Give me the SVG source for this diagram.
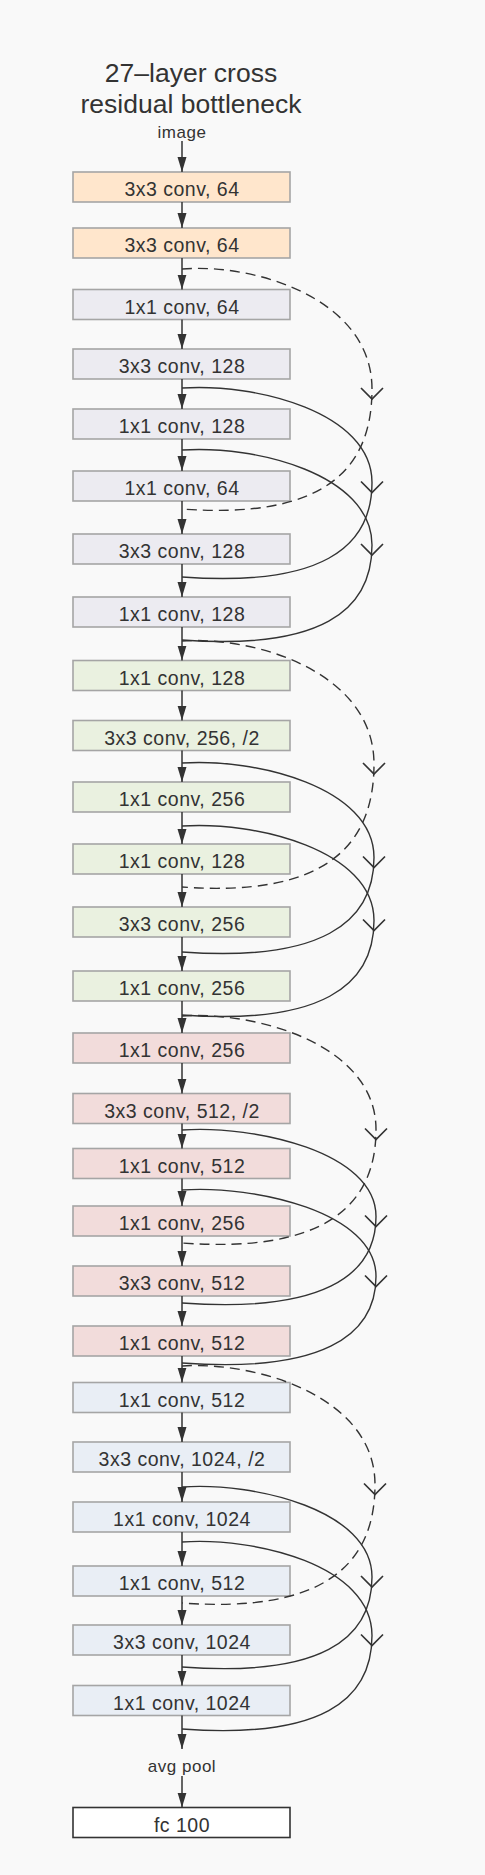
<svg xmlns="http://www.w3.org/2000/svg" width="485" height="1875" viewBox="0 0 485 1875">
<style>
.bg{fill:#f9f9f9}
.box{stroke:#a5a5a5;stroke-width:1.6}
.c0{fill:#ffe6cc}
.c1{fill:#ecebf1}
.c2{fill:#eaf1e0}
.c3{fill:#f2dcdb}
.c4{fill:#e9eef5}
.fc{fill:#ffffff;stroke:#333333;stroke-width:1.6}
.lbl{font-family:"Liberation Sans",Arial,sans-serif;font-size:19.5px;letter-spacing:0.5px;fill:#333333;text-anchor:middle}
.title{font-family:"Liberation Sans",Arial,sans-serif;font-size:26.5px;fill:#333333;text-anchor:middle}
.small{font-family:"Liberation Sans",Arial,sans-serif;font-size:17px;letter-spacing:0.5px;fill:#333333;text-anchor:middle}
.arr{fill:none;stroke:#333333;stroke-width:1.5;marker-end:url(#ah)}
.skip{fill:none;stroke:#333333;stroke-width:1.4;marker-mid:url(#v)}
.dash{stroke-dasharray:10 6}
</style>
<defs>
<marker id="ah" markerUnits="userSpaceOnUse" viewBox="0 0 15 10" markerWidth="15" markerHeight="10" refX="15" refY="5" orient="auto">
<path d="M0,0.5 L15,5 L0,9.5 Z" fill="#333333"/>
</marker>
<marker id="v" markerUnits="userSpaceOnUse" viewBox="-14 -13 16 26" markerWidth="16" markerHeight="26" refX="-10" refY="0" orient="auto" overflow="visible">
<path d="M-11,-11 L0,0 L-11,11" fill="none" stroke="#333333" stroke-width="1.7" stroke-dasharray="none"/>
</marker>
</defs>
<rect class="bg" x="0" y="0" width="485" height="1875"/>
<g id="title">
<text class="title" x="191" y="82">27–layer cross</text>
<text class="title" x="191" y="113">residual bottleneck</text>
</g>
<g id="image"><text class="small" x="182" y="138">image</text></g>
<g id="n1"><rect class="box c0" x="73" y="172" width="217" height="30"/><text class="lbl" x="182" y="196">3x3 conv, 64</text></g>
<g id="n2"><rect class="box c0" x="73" y="228" width="217" height="30"/><text class="lbl" x="182" y="252">3x3 conv, 64</text></g>
<g id="n3"><rect class="box c1" x="73" y="289.5" width="217" height="30"/><text class="lbl" x="182" y="313.5">1x1 conv, 64</text></g>
<g id="n4"><rect class="box c1" x="73" y="349" width="217" height="30"/><text class="lbl" x="182" y="373">3x3 conv, 128</text></g>
<g id="n5"><rect class="box c1" x="73" y="409" width="217" height="30"/><text class="lbl" x="182" y="433">1x1 conv, 128</text></g>
<g id="n6"><rect class="box c1" x="73" y="471" width="217" height="30"/><text class="lbl" x="182" y="495">1x1 conv, 64</text></g>
<g id="n7"><rect class="box c1" x="73" y="534" width="217" height="30"/><text class="lbl" x="182" y="558">3x3 conv, 128</text></g>
<g id="n8"><rect class="box c1" x="73" y="597" width="217" height="30"/><text class="lbl" x="182" y="621">1x1 conv, 128</text></g>
<g id="n9"><rect class="box c2" x="73" y="660.5" width="217" height="30"/><text class="lbl" x="182" y="684.5">1x1 conv, 128</text></g>
<g id="n10"><rect class="box c2" x="73" y="720.5" width="217" height="30"/><text class="lbl" x="182" y="744.5">3x3 conv, 256, /2</text></g>
<g id="n11"><rect class="box c2" x="73" y="782" width="217" height="30"/><text class="lbl" x="182" y="806">1x1 conv, 256</text></g>
<g id="n12"><rect class="box c2" x="73" y="844" width="217" height="30"/><text class="lbl" x="182" y="868">1x1 conv, 128</text></g>
<g id="n13"><rect class="box c2" x="73" y="907" width="217" height="30"/><text class="lbl" x="182" y="931">3x3 conv, 256</text></g>
<g id="n14"><rect class="box c2" x="73" y="971" width="217" height="30"/><text class="lbl" x="182" y="995">1x1 conv, 256</text></g>
<g id="n15"><rect class="box c3" x="73" y="1033" width="217" height="30"/><text class="lbl" x="182" y="1057">1x1 conv, 256</text></g>
<g id="n16"><rect class="box c3" x="73" y="1093.5" width="217" height="30"/><text class="lbl" x="182" y="1117.5">3x3 conv, 512, /2</text></g>
<g id="n17"><rect class="box c3" x="73" y="1148.5" width="217" height="30"/><text class="lbl" x="182" y="1172.5">1x1 conv, 512</text></g>
<g id="n18"><rect class="box c3" x="73" y="1206" width="217" height="30"/><text class="lbl" x="182" y="1230">1x1 conv, 256</text></g>
<g id="n19"><rect class="box c3" x="73" y="1266" width="217" height="30"/><text class="lbl" x="182" y="1290">3x3 conv, 512</text></g>
<g id="n20"><rect class="box c3" x="73" y="1326" width="217" height="30"/><text class="lbl" x="182" y="1350">1x1 conv, 512</text></g>
<g id="n21"><rect class="box c4" x="73" y="1382.5" width="217" height="30"/><text class="lbl" x="182" y="1406.5">1x1 conv, 512</text></g>
<g id="n22"><rect class="box c4" x="73" y="1442" width="217" height="30"/><text class="lbl" x="182" y="1466">3x3 conv, 1024, /2</text></g>
<g id="n23"><rect class="box c4" x="73" y="1502" width="217" height="30"/><text class="lbl" x="182" y="1526">1x1 conv, 1024</text></g>
<g id="n24"><rect class="box c4" x="73" y="1566" width="217" height="30"/><text class="lbl" x="182" y="1590">1x1 conv, 512</text></g>
<g id="n25"><rect class="box c4" x="73" y="1625" width="217" height="30"/><text class="lbl" x="182" y="1649">3x3 conv, 1024</text></g>
<g id="n26"><rect class="box c4" x="73" y="1685.5" width="217" height="30"/><text class="lbl" x="182" y="1709.5">1x1 conv, 1024</text></g>
<g id="avgpool"><text class="small" x="182" y="1771.5">avg pool</text></g>
<g id="fc"><rect class="fc" x="73" y="1807.5" width="217" height="30"/><text class="lbl" x="182" y="1831.5">fc 100</text></g>
<g id="connectors">
<path class="arr" d="M182,141 V172"/>
<path class="arr" d="M182,202 V228"/>
<path class="arr" d="M182,258 V289.5"/>
<path class="arr" d="M182,319.5 V349"/>
<path class="arr" d="M182,379 V409"/>
<path class="arr" d="M182,439 V471"/>
<path class="arr" d="M182,501 V534"/>
<path class="arr" d="M182,564 V597"/>
<path class="arr" d="M182,627 V660.5"/>
<path class="arr" d="M182,690.5 V720.5"/>
<path class="arr" d="M182,750.5 V782"/>
<path class="arr" d="M182,812 V844"/>
<path class="arr" d="M182,874 V907"/>
<path class="arr" d="M182,937 V971"/>
<path class="arr" d="M182,1001 V1033"/>
<path class="arr" d="M182,1063 V1093.5"/>
<path class="arr" d="M182,1123.5 V1148.5"/>
<path class="arr" d="M182,1178.5 V1206"/>
<path class="arr" d="M182,1236 V1266"/>
<path class="arr" d="M182,1296 V1326"/>
<path class="arr" d="M182,1356 V1382.5"/>
<path class="arr" d="M182,1412.5 V1442"/>
<path class="arr" d="M182,1472 V1502"/>
<path class="arr" d="M182,1532 V1566"/>
<path class="arr" d="M182,1596 V1625"/>
<path class="arr" d="M182,1655 V1685.5"/>
<path class="arr" d="M182,1715.5 V1749"/>
<path class="arr" d="M182,1776 V1807.5"/>
<path class="skip dash" d="M182,269 C255,263 372,299 372,389 C372,473 320,519 182,509"/>
<path class="skip" d="M182,388 C255,383 372,412 372,482.5 C372,548.5 320,587 182,577"/>
<path class="skip" d="M182,450 C255,445 372,474 372,545 C372,611.5 320,650 182,640"/>
<path class="skip dash" d="M182,641 C255,636 374,672 374,764 C374,850 320,897 182,887"/>
<path class="skip" d="M182,763 C255,758 374,787 374,857.5 C374,923.5 320,962 182,952"/>
<path class="skip" d="M182,826 C255,821 374,850 374,920.5 C374,986.5 320,1025 182,1015"/>
<path class="skip dash" d="M182,1016 C255,1011 376,1044 376,1129.5 C376,1209 320,1253 182,1243"/>
<path class="skip" d="M182,1130 C255,1125 376,1152 376,1216.5 C376,1277 320,1313 182,1303"/>
<path class="skip" d="M182,1190 C255,1185 376,1212 376,1276.5 C376,1337 320,1373 182,1363"/>
<path class="skip dash" d="M182,1366 C255,1361 375,1396 375,1484.5 C375,1567.5 320,1613 182,1603"/>
<path class="skip" d="M182,1487 C255,1482 372,1510 372,1577 C372,1640 320,1677 182,1667"/>
<path class="skip" d="M182,1542 C255,1537 372,1565 372,1635.5 C372,1701 320,1739 182,1729"/>
</g>
</svg>
